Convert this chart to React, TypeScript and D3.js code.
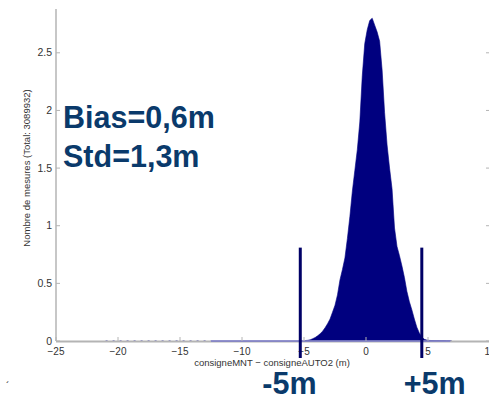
import React from "react";
import * as d3 from "d3";

// histogram bins: centre of each 0.2 m bin
const binCenters = [
  -4.9, -4.7, -4.5, -4.3, -4.1, -3.9, -3.7, -3.5, -3.3, -3.1,
  -2.9, -2.7, -2.5, -2.3, -2.1, -1.9, -1.7, -1.5, -1.3, -1.1,
  -0.9, -0.7, -0.5, -0.3, -0.1, 0.1, 0.3, 0.5, 0.7, 0.9,
  1.1, 1.3, 1.5, 1.7, 1.9, 2.1, 2.3, 2.5, 2.7, 2.9,
  3.1, 3.3, 3.5, 3.7, 3.9, 4.1, 4.3, 4.5, 4.7, 4.9,
  5.1, 5.3, 5.5, 5.7, 5.9, 6.1, 6.3, 6.5, 6.7, 6.9,
];
// counts (x1e5)
const binCounts = [
  0.004, 0.006, 0.010, 0.020, 0.030, 0.045, 0.062, 0.085, 0.115, 0.15,
  0.19, 0.25, 0.31, 0.40, 0.53, 0.62, 0.72, 0.89, 1.08, 1.30,
  1.48, 1.66, 1.90, 2.30, 2.58, 2.70, 2.78, 2.80, 2.74, 2.68,
  2.60, 2.35, 1.98, 1.70, 1.50, 1.32, 0.98, 0.82, 0.74, 0.65,
  0.55, 0.43, 0.34, 0.27, 0.19, 0.12, 0.07, 0.035, 0.015, 0.008,
  0.005, 0.004, 0.003, 0.003, 0.002, 0.002, 0.002, 0.001, 0.001, 0.001,
];

const xTicks = [-25, -20, -15, -10, -5, 0, 5, 10];
const yTicks = [0, 0.5, 1, 1.5, 2, 2.5];
const xDomain = [-25, 10];
const yDomain = [0, 2.88];

const sparseTail = [-21, -12.5];
const denseTail = [-12.5, 6.8];
const markerLines = [-5.3, 4.5];
const markerTop = 0.81;

const statTexts = ["Bias=0,6m", "Std=1,3m"];
const markerLabels = ["-5m", "+5m"];
const yLabel = "Nombre de mesures (Total: 3089932)";
const xLabel = "consigneMNT \u2212 consigneAUTO2 (m)";

const W = 489;
const H = 398;

export default function App() {
  const x = d3.scaleLinear().domain(xDomain).range([56, 490]);
  const y = d3.scaleLinear().domain(yDomain).range([341, 9]);

  const pts: [number, number][] = binCenters.map((c, i) => [c, binCounts[i]]);
  const area = d3
    .area<[number, number]>()
    .x((d) => x(d[0]))
    .y0(y(0))
    .y1((d) => y(d[1]))
    .curve(d3.curveLinear);

  const fmt = (v: number) => (v < 0 ? "\u2212" + Math.abs(v) : String(v));
  const font = "'Liberation Sans', Arial, Helvetica, sans-serif";
  const axisCol = "#b4b4b4";
  const textCol = "#333";
  const navy = "#00007f";
  const statCol = "#0a3a6b";

  return (
    <svg
      width={W}
      height={H}
      style={{ position: "absolute", left: 0, top: 0, background: "#fff" }}
      fontFamily={font}
    >
      {/* axes box */}
      <line x1={x(-25)} x2={x(-25)} y1={y(yDomain[1])} y2={y(0)} stroke={axisCol} strokeWidth={1.5} />
      <line x1={x(10)} x2={x(10)} y1={y(yDomain[1])} y2={y(0)} stroke={axisCol} strokeWidth={1.5} />

      {/* tails */}
      <line
        x1={x(sparseTail[0])}
        x2={x(sparseTail[1])}
        y1={y(0) - 0.5}
        y2={y(0) - 0.5}
        stroke="#8a8ad0"
        strokeWidth={1}
        strokeDasharray="2 5"
      />
      <path d={area(pts) || ""} fill={navy} stroke={navy} strokeWidth={0.6} />

      {/* bottom axis */}
      <line x1={x(-25)} x2={x(10)} y1={y(0) + 0.5} y2={y(0) + 0.5} stroke={axisCol} strokeWidth={2} />
      <line
        x1={x(denseTail[0])}
        x2={x(denseTail[1])}
        y1={y(0)}
        y2={y(0)}
        stroke="#7878c8"
        strokeWidth={1.3}
      />

      {/* x ticks */}
      {xTicks.map((t) => (
        <g key={"xt" + t}>
          <line x1={x(t)} x2={x(t)} y1={y(0)} y2={y(0) - 4} stroke={axisCol} strokeWidth={1} />
          <text x={x(t)} y={y(0) + 14} fontSize={10} textAnchor="middle" fill={textCol}>
            {fmt(t)}
          </text>
        </g>
      ))}
      {/* y ticks */}
      {yTicks.map((t) => (
        <g key={"yt" + t}>
          <line x1={x(-25)} x2={x(-25) + 4} y1={y(t)} y2={y(t)} stroke={axisCol} strokeWidth={1} />
          <line x1={x(10)} x2={x(10) - 4} y1={y(t)} y2={y(t)} stroke={axisCol} strokeWidth={1} />
          <text x={x(-25) - 4} y={y(t) + 3.5} fontSize={10.5} textAnchor="end" fill={textCol}>
            {String(t)}
          </text>
        </g>
      ))}

      {/* axis labels */}
      <text
        transform={`translate(30,168) rotate(-90)`}
        fontSize={9.5}
        textAnchor="middle"
        fill={textCol}
      >
        {yLabel}
      </text>
      <text x={272} y={366} fontSize={9.5} textAnchor="middle" fill={textCol}>
        {xLabel}
      </text>

      {/* marker lines */}
      {markerLines.map((m) => (
        <line
          key={"m" + m}
          x1={x(m)}
          x2={x(m)}
          y1={y(markerTop)}
          y2={y(0) + 17}
          stroke="#000066"
          strokeWidth={3}
        />
      ))}

      {/* stat texts */}
      {statTexts.map((s, i) => (
        <text
          key={s}
          x={63}
          y={128 + i * 39}
          fontSize={30.5}
          fontWeight="bold"
          fill={statCol}
        >
          {s}
        </text>
      ))}
      <text x={x(markerLines[0]) - 38} y={394} fontSize={30.5} fontWeight="bold" fill={statCol}>
        {markerLabels[0]}
      </text>
      <text x={x(markerLines[1]) - 18} y={394} fontSize={30.5} fontWeight="bold" fill={statCol}>
        {markerLabels[1]}
      </text>
      <text x={6} y={390} fontSize={10} fill="#000">
        {"\u00b4"}
      </text>
    </svg>
  );
}
